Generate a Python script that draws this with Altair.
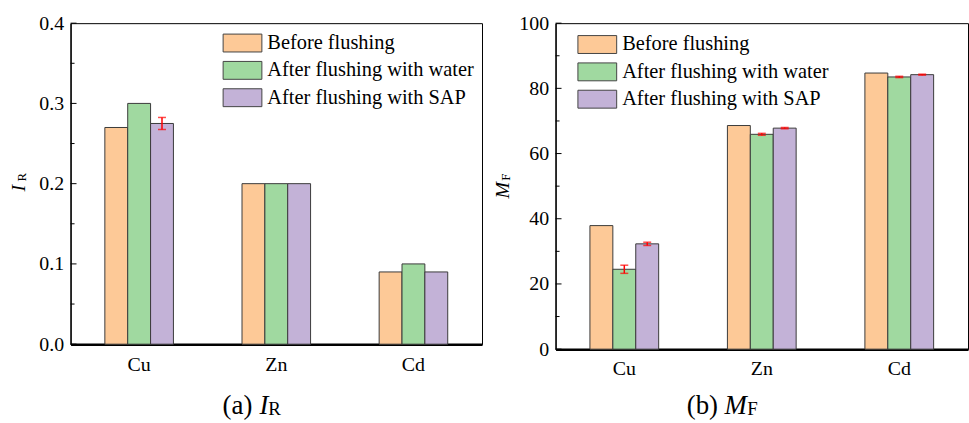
import altair as alt
import pandas as pd

FONT = "Liberation Serif"

metals = ["Cu", "Zn", "Cd"]
series = ["Before flushing", "After flushing with water", "After flushing with SAP"]
colors = ["#FDC997", "#A0D9A0", "#C3B2D7"]

# (a) I_R
ir_before = [0.270, 0.200, 0.090]
ir_water = [0.300, 0.200, 0.100]
ir_sap = [0.275, 0.200, 0.090]
ir_err_before = [0, 0, 0]
ir_err_water = [0, 0, 0]
ir_err_sap = [0.0075, 0, 0]
ir_major = [0.0, 0.1, 0.2, 0.3, 0.4]
ir_minor = [0.05, 0.15, 0.25, 0.35]

# (b) M_F
mf_before = [37.9, 68.6, 84.7]
mf_water = [24.5, 65.9, 83.5]
mf_sap = [32.3, 67.8, 84.2]
mf_err_before = [0, 0, 0]
mf_err_water = [1.25, 0.3, 0.2]
mf_err_sap = [0.5, 0.2, 0.15]
mf_major = [0, 20, 40, 60, 80, 100]
mf_minor = [10, 30, 50, 70, 90]


def build_df(vals, errs):
    rows = []
    for s, v, e in zip(series, vals, errs):
        for m, vv, ee in zip(metals, v, e):
            rows.append({"Metal": m, "Series": s, "Value": vv, "Err": ee,
                         "Lo": vv - ee, "Hi": vv + ee})
    return pd.DataFrame(rows)


df_ir = build_df([ir_before, ir_water, ir_sap], [ir_err_before, ir_err_water, ir_err_sap])
df_mf = build_df([mf_before, mf_water, mf_sap], [mf_err_before, mf_err_water, mf_err_sap])

LEGEND_PATH = "M-1,-0.9H2.9V0.9H-1Z"


def text_layer(txt, x, y, size, style="normal", angle=0, align="left", baseline="alphabetic"):
    return alt.Chart(pd.DataFrame({"t": [txt]})).mark_text(
        font=FONT, fontSize=size, fontStyle=style, angle=angle, align=align,
        baseline=baseline, color="black"
    ).encode(text="t:N", x=alt.value(x), y=alt.value(y))


def panel(df, domain, major, minor, fmt, width, height, lx, ly, ytitle, bottom):
    x_axis = alt.Axis(title=None, labelAngle=0, labelFont=FONT, labelFontSize=20,
                      labelColor="black", labelPadding=10, ticks=False,
                      domainColor="black", domainWidth=2.5)
    x_enc = alt.X("Metal:N", sort=metals,
                  scale=alt.Scale(paddingInner=0.5, paddingOuter=0.25), axis=x_axis)
    xo_enc = alt.XOffset("Series:N", sort=series, scale=alt.Scale(paddingInner=0, paddingOuter=0))
    y_scale = alt.Scale(domain=domain, nice=False, zero=True)
    y_axis = alt.Axis(title=None, values=major, format=fmt, ticks=False, grid=False,
                      labelFont=FONT, labelFontSize=20, labelColor="black",
                      labelPadding=7, domainColor="black", domainWidth=1.3)

    def Y(field):
        return alt.Y(field, scale=y_scale, axis=y_axis)

    bars = alt.Chart(df).mark_bar(stroke="#3a3a3a", strokeWidth=1).encode(
        x=x_enc, xOffset=xo_enc, y=Y("Value:Q"),
        color=alt.Color("Series:N", sort=series,
                        scale=alt.Scale(domain=series, range=colors),
                        legend=alt.Legend(orient="none", legendX=lx, legendY=ly, title=None,
                                          symbolType=LEGEND_PATH, symbolSize=400,
                                          labelFont=FONT, labelFontSize=20.5, labelColor="black",
                                          labelOffset=24, rowPadding=4.5, padding=0,
                                          symbolStrokeColor="#444", symbolStrokeWidth=1,
                                          symbolOpacity=1, labelLimit=0)))
    edf = df[df["Err"] > 0]
    err_rule = alt.Chart(edf).mark_rule(color="red", strokeWidth=1.5).encode(
        x=x_enc, xOffset=xo_enc, y=Y("Lo:Q"), y2="Hi:Q")
    cap_lo = alt.Chart(edf).mark_tick(color="red", size=8, thickness=1.5).encode(
        x=x_enc, xOffset=xo_enc, y=Y("Lo:Q"))
    cap_hi = alt.Chart(edf).mark_tick(color="red", size=8, thickness=1.5).encode(
        x=x_enc, xOffset=xo_enc, y=Y("Hi:Q"))
    maj = alt.Chart(pd.DataFrame({"v": major})).mark_rule(color="black", strokeWidth=1).encode(
        y=Y("v:Q"), x=alt.value(0), x2=alt.value(6))
    mnr = alt.Chart(pd.DataFrame({"v": minor})).mark_rule(color="black", strokeWidth=1).encode(
        y=Y("v:Q"), x=alt.value(0), x2=alt.value(4))
    (ymain, ysub, ymx, ymy, ysx, ysy) = ytitle
    yt1 = text_layer(ymain, ymx, ymy, 20, style="italic", angle=270, align="center", baseline="middle")
    yt2 = text_layer(ysub, ysx, ysy, 13, angle=270, align="center", baseline="middle")
    (lab, bmain, bsub, bx, bmx, bsx, by) = bottom
    b1 = text_layer(lab, bx, by, 27)
    b2 = text_layer(bmain, bmx, by, 27, style="italic")
    b3 = text_layer(bsub, bsx, by + 1, 19)
    layers = [bars, err_rule, cap_lo, cap_hi, maj, mnr, yt1, yt2, b1, b2, b3]
    return alt.layer(*layers).properties(width=width, height=height)


left = panel(df_ir, [0, 0.4], ir_major, ir_minor, ".1f", 414, 323, 153, 9.5,
             ("I", "R", -52, 166, -49, 155),
             ("(a) ", "I", "R", 153, 190, 199, 393))
right = panel(df_mf, [0, 100], mf_major, mf_minor, "d", 415, 328, 22, 11,
              ("M", "F", -53, 168, -50, 155),
              ("(b) ", "M", "F", 132, 170, 193, 393))

chart = alt.hconcat(left, right, spacing=9).resolve_scale(
    color="independent", y="independent", x="independent", xOffset="independent"
).resolve_legend(color="independent").configure_view(
    stroke="black", strokeWidth=1
).configure_axis(
    labelFont=FONT, labelFontSize=20, labelColor="black"
).configure_legend(
    labelFont=FONT, labelFontSize=20.5, labelColor="black"
).properties(padding={"left": 8, "top": 11, "right": 0, "bottom": 0})

chart.save("out.html", embed_options={"renderer": "svg", "actions": False})
